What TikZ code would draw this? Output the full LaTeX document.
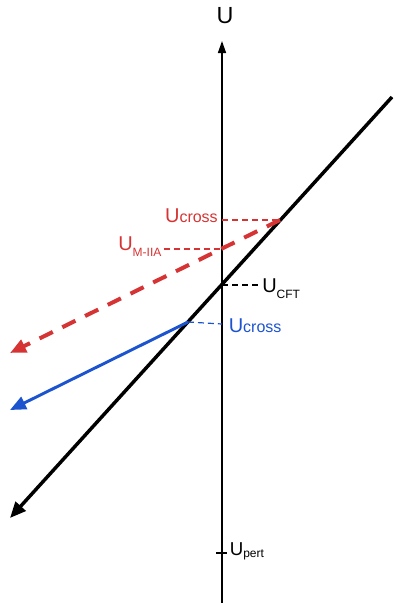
\documentclass[tikz,border=0pt]{standalone}
\usepackage{fontspec}
\setmainfont{Liberation Sans}
\usetikzlibrary{arrows.meta}
\definecolor{crossred}{RGB}{214,52,52}
\definecolor{crossblue}{RGB}{28,84,208}
% U with a lowered index, and the "Ucross" label
\newcommand{\usub}[3][15]{{\fontsize{#1}{18}\selectfont U}\raisebox{-#3}{\fontsize{9}{11}\selectfont #2}}
\newcommand{\ucross}{{\fontsize{15}{18}\selectfont U}{\fontsize{12}{14}\selectfont cross}}

\begin{document}
\begin{tikzpicture}[x=0.75pt, y=-0.75pt,
  bigtip/.style={-{Triangle[length=12pt,width=10pt]}},
  guide/.style={line width=0.9pt, dash pattern=on 4.5pt off 3pt},
  lbl/.style={inner sep=0pt}]
\useasboundingbox (0,0) rectangle (395,603);

% ===== axis =====
\coordinate (axbot) at (222,603);
\coordinate (axtop) at (222,41);
\draw[-{Triangle[length=9pt,width=6pt]}, line width=1.1pt] (axbot) -- (axtop);
\node[font=\fontsize{17.5}{20}\selectfont] (lblU) at (225,16) {U};

% ===== points on the axis =====
\coordinate (cft)   at (222,285);
\coordinate (miia)  at (222,249);
\coordinate (xred)  at (222,220);
\coordinate (xblue) at (222,324);
\coordinate (pert)  at (222,553);

% ===== main lines =====
\coordinate (bstart) at (392,97);
\coordinate (bend)   at (10,518);
\coordinate (rstart) at (280,220);
\coordinate (rend)   at (10,353);
\coordinate (ustart) at (188,322);
\coordinate (uend)   at (10,410);

\draw[bigtip, line width=2.6pt] (bstart) -- (bend);
\draw[bigtip, crossred, line width=3pt, dash pattern=on 11pt off 8pt] (rstart) -- (rend);
\draw[bigtip, crossblue, line width=2.2pt] (ustart) -- (uend);

% ===== labels and dashed guides =====
\node[lbl, crossred, anchor=base east] (lblxred) at (218,222) {\ucross};
\draw[guide, crossred] (xred) -- (rstart);

\node[lbl, crossred, anchor=base west] (lblmiia) at (118,250) {\usub{M-IIA}{4.5pt}};
\draw[guide, crossred] ([xshift=1.5pt]lblmiia.east |- miia) -- (miia);

\node[lbl, anchor=base west] (lblcft) at (262,292) {\usub{CFT}{4.5pt}};
\draw[guide] (cft) -- ([xshift=-2pt]lblcft.west |- cft);

\node[lbl, crossblue, anchor=base west] (lblxblue) at (228.5,332) {\ucross};
\draw[guide, crossblue] (ustart) -- (xblue);

\draw[line width=1.1pt] ([xshift=-4.5pt]pert) -- ([xshift=4pt]pert);
\node[lbl, anchor=base west] (lblpert) at (229.5,555) {\usub[14]{pert}{1.5pt}};
\end{tikzpicture}
\end{document}
